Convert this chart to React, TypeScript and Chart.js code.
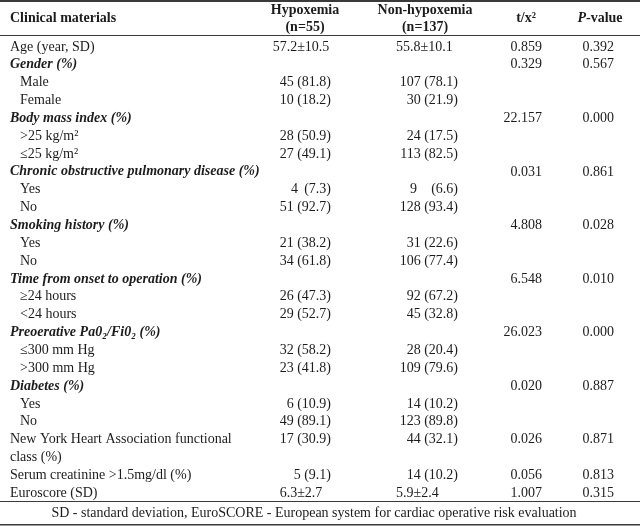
import React, { useEffect, useRef } from "react";
import { Chart, registerables } from "chart.js";

Chart.register(...registerables);

// ---- table data ----
const HEADERS = ["Clinical materials", "Hypoxemia", "(n=55)", "Non-hypoxemia", "(n=137)", "t/x²", "P", "-value"];

const ROW_LABELS = [
  "Age (year, SD)",
  "Gender (%)",
  "Male",
  "Female",
  "Body mass index (%)",
  ">25 kg/m²",
  "≤25 kg/m²",
  "Chronic obstructive pulmonary disease (%)",
  "Yes",
  "No",
  "Smoking history (%)",
  "Yes",
  "No",
  "Time from onset to operation (%)",
  "≥24 hours",
  "<24 hours",
  "Preoerative Pa0₂/Fi0₂ (%)",
  "≤300 mm Hg",
  ">300 mm Hg",
  "Diabetes (%)",
  "Yes",
  "No",
  "New York Heart Association functional",
  "class (%)",
  "Serum creatinine >1.5mg/dl (%)",
  "Euroscore (SD)",
];

const ROW_KINDS = [
  "main", "group", "sub", "sub", "group", "sub", "sub", "group", "sub", "sub",
  "group", "sub", "sub", "group", "sub", "sub", "group", "sub", "sub", "group",
  "sub", "sub", "main", "main", "main", "main",
];

// a wide gap ("   ") marks a count that is aligned in its own sub-column
const HYPOXEMIA = [
  "57.2±10.5", "", "45 (81.8)", "10 (18.2)", "", "28 (50.9)", "27 (49.1)", "", "4   (7.3)", "51 (92.7)",
  "", "21 (38.2)", "34 (61.8)", "", "26 (47.3)", "29 (52.7)", "", "32 (58.2)", "23 (41.8)", "",
  "6 (10.9)", "49 (89.1)", "17 (30.9)", "", "5 (9.1)", "6.3±2.7",
];

const NON_HYPOXEMIA = [
  "55.8±10.1", "", "107 (78.1)", "30 (21.9)", "", "24 (17.5)", "113 (82.5)", "", "9   (6.6)", "128 (93.4)",
  "", "31 (22.6)", "106 (77.4)", "", "92 (67.2)", "45 (32.8)", "", "28 (20.4)", "109 (79.6)", "",
  "14 (10.2)", "123 (89.8)", "44 (32.1)", "", "14 (10.2)", "5.9±2.4",
];

const T_STAT = [
  "0.859", "0.329", "", "", "22.157", "", "", "0.031", "", "",
  "4.808", "", "", "6.548", "", "", "26.023", "", "", "0.020",
  "", "", "0.026", "", "0.056", "1.007",
];

const P_VALUE = [
  "0.392", "0.567", "", "", "0.000", "", "", "0.861", "", "",
  "0.028", "", "", "0.010", "", "", "0.000", "", "", "0.887",
  "", "", "0.871", "", "0.813", "0.315",
];

const FOOTNOTE = "SD - standard deviation, EuroSCORE - European system for cardiac operative risk evaluation";

// ---- layout ----
const FAMILY = '"Liberation Serif", "Times New Roman", serif';
const FS = 14;
const TEXT = "#1c1c1c";
const RULE = "#3a3a3a";

const COL = {
  labelX: 10,
  subX: 20,
  hypMean: 301,
  hypMeanAlign: "center" as CanvasTextAlign,
  hypCountR: 298,
  hypPctR: 331,
  hypHead: 305,
  nonMean: 396,
  nonMeanAlign: "left" as CanvasTextAlign,
  nonCountR: 417,
  nonPctR: 458,
  nonHead: 425,
  tR: 542,
  tHead: 526,
  pR: 614,
  pHead: 600,
};

function drawCell(
  ctx: CanvasRenderingContext2D,
  s: string,
  meanX: number,
  meanAlign: CanvasTextAlign,
  countR: number,
  pctR: number,
  y: number
) {
  if (!s) return;
  const wide = s.match(/^(\S+)\s{2,}(\(.*\))$/);
  if (wide) {
    ctx.textAlign = "right";
    ctx.fillText(wide[1], countR, y);
    ctx.fillText(wide[2], pctR, y);
  } else if (s.includes("(")) {
    ctx.textAlign = "right";
    ctx.fillText(s, pctR, y);
  } else {
    ctx.textAlign = meanAlign;
    ctx.fillText(s, meanX, y);
  }
}

const tablePlugin = {
  id: "tablePlugin",
  beforeDraw(chart: any) {
    const ctx = chart.ctx as CanvasRenderingContext2D;
    ctx.save();
    ctx.fillStyle = "#ffffff";
    ctx.fillRect(0, 0, chart.width, chart.height);
    ctx.restore();
  },
  afterDraw(chart: any) {
    const ctx = chart.ctx as CanvasRenderingContext2D;
    const yS = chart.scales.y;
    const xS = chart.scales.x;
    const X = (v: number) => xS.getPixelForValue(v);
    const area = chart.chartArea;
    ctx.save();
    ctx.textBaseline = "middle";

    // rules
    ctx.fillStyle = RULE;
    ctx.fillRect(0, 0, chart.width, 2);
    ctx.fillRect(0, 35, chart.width, 1);
    ctx.fillRect(0, area.bottom - 1, chart.width, 1);
    ctx.fillRect(0, chart.height - 3, chart.width, 1.5);
    ctx.fillStyle = TEXT;

    // header
    ctx.font = `bold ${FS}px ${FAMILY}`;
    ctx.textAlign = "left";
    ctx.fillText(HEADERS[0], X(COL.labelX), 18);
    ctx.textAlign = "center";
    ctx.fillText(HEADERS[1], X(COL.hypHead), 10);
    ctx.fillText(HEADERS[2], X(COL.hypHead), 27);
    ctx.fillText(HEADERS[3], X(COL.nonHead), 10);
    ctx.fillText(HEADERS[4], X(COL.nonHead), 27);
    ctx.fillText(HEADERS[5], X(COL.tHead), 18);
    // P-value with italic P
    ctx.font = `bold italic ${FS}px ${FAMILY}`;
    const wP = ctx.measureText(HEADERS[6]).width;
    ctx.font = `bold ${FS}px ${FAMILY}`;
    const wRest = ctx.measureText(HEADERS[7]).width;
    const start = X(COL.pHead) - (wP + wRest) / 2;
    ctx.textAlign = "left";
    ctx.font = `bold italic ${FS}px ${FAMILY}`;
    ctx.fillText(HEADERS[6], start, 18);
    ctx.font = `bold ${FS}px ${FAMILY}`;
    ctx.fillText(HEADERS[7], start + wP, 18);

    // rows
    ROW_LABELS.forEach((label, i) => {
      const y = yS.getPixelForValue(i);
      const kind = ROW_KINDS[i];
      ctx.textAlign = "left";
      if (kind === "group") {
        ctx.font = `italic bold ${FS}px ${FAMILY}`;
        ctx.fillText(label, X(COL.labelX), y);
      } else {
        ctx.font = `${FS}px ${FAMILY}`;
        ctx.fillText(label, X(kind === "sub" ? COL.subX : COL.labelX), y);
      }
      ctx.font = `${FS}px ${FAMILY}`;
      drawCell(ctx, HYPOXEMIA[i], X(COL.hypMean), COL.hypMeanAlign, X(COL.hypCountR), X(COL.hypPctR), y);
      drawCell(ctx, NON_HYPOXEMIA[i], X(COL.nonMean), COL.nonMeanAlign, X(COL.nonCountR), X(COL.nonPctR), y);
      ctx.textAlign = "right";
      if (T_STAT[i]) ctx.fillText(T_STAT[i], X(COL.tR), y);
      if (P_VALUE[i]) ctx.fillText(P_VALUE[i], X(COL.pR), y);
    });

    // footnote
    ctx.font = `${FS}px ${FAMILY}`;
    ctx.textAlign = "center";
    ctx.fillText(FOOTNOTE, chart.width / 2 - 6, 513);
    ctx.restore();
  },
};

export default function App() {
  const ref = useRef<HTMLCanvasElement>(null);
  useEffect(() => {
    document.body.style.margin = "0";
    if (!ref.current) return;
    const chart = new Chart(ref.current, {
      type: "bar",
      data: {
        labels: ROW_LABELS.map((_, i) => String(i)),
        datasets: [],
      },
      options: {
        indexAxis: "y",
        responsive: false,
        animation: false,
        layout: { padding: { top: 38, bottom: 25, left: 0, right: 0 } },
        plugins: { legend: { display: false }, tooltip: { enabled: false } },
        scales: {
          x: { type: "linear", min: 0, max: 640, display: false },
          y: { type: "category", display: false, offset: true },
        },
      },
      plugins: [tablePlugin],
    } as any);
    return () => chart.destroy();
  }, []);
  return (
    <div style={{ width: 640, height: 527 }}>
      <canvas ref={ref} width={640} height={527} style={{ display: "block" }} />
    </div>
  );
}
